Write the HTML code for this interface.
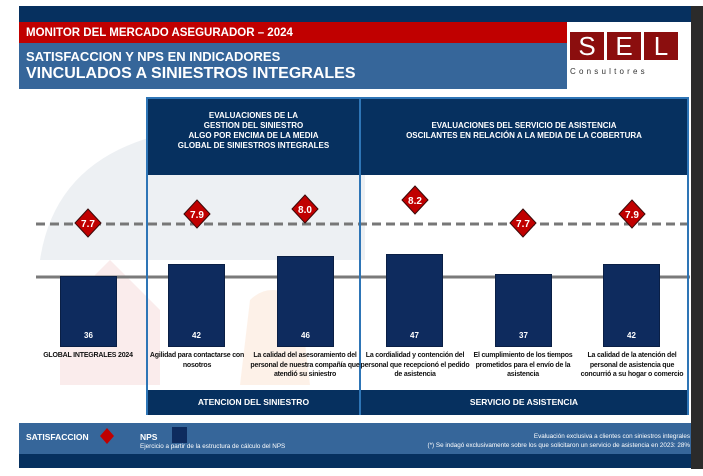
<!DOCTYPE html>
<html><head><meta charset="utf-8"><style>
*{margin:0;padding:0;box-sizing:border-box}
body{width:703px;height:476px;background:#fff;position:relative;overflow:hidden;font-family:"Liberation Sans Narrow","Liberation Sans",sans-serif;font-weight:bold}
.a{position:absolute}
.bar{position:absolute;width:57px;background:#0E2B5E;border:1px solid #0a1f45;color:#fff;font-size:8px;text-align:center}
.lab{position:absolute;width:112px;font-size:7px;line-height:9.5px;text-align:center;color:#111;letter-spacing:-0.2px}
</style></head><body>
<div class="a" style="left:691px;top:6px;width:12px;height:463px;background:#2b2b2b"></div>
<div class="a" style="left:19px;top:6px;width:672px;height:16px;background:#06305F"></div>
<svg class="a" style="left:0;top:0" width="703" height="476">
<path d="M40 260 Q60 125 250 125 Q320 125 365 175 L365 260 Z" fill="#e6e9ee" opacity="0.7"/>
<path d="M60 310 L110 260 L160 310 L160 385 L60 385 Z" fill="#f7e0e0" opacity="0.6"/>
<path d="M250 300 Q270 280 300 300 L310 385 L240 385 Z" fill="#fbe8d8" opacity="0.6"/>
<line x1="36" y1="224" x2="690" y2="224" stroke="#777" stroke-width="3" stroke-dasharray="9,5"/>
<line x1="36" y1="277" x2="690" y2="277" stroke="#7a7a7a" stroke-width="3"/>
</svg>
<div class="a" style="left:19px;top:22px;width:548px;height:21px;background:#C00000;color:#fff;font-size:11.5px;padding:5px 0 0 7px">MONITOR DEL MERCADO ASEGURADOR – 2024</div>
<div class="a" style="left:19px;top:43px;width:548px;height:46px;background:#36669A;color:#fff;padding:6px 0 0 7px"><div style="font-size:13px">SATISFACCION Y NPS EN INDICADORES</div><div style="font-size:16px;margin-top:1px">VINCULADOS A SINIESTROS INTEGRALES</div></div>
<div class="a" style="left:570px;top:32px;width:34px;height:28px;background:#8B0E0E;color:#fff;font-size:26px;font-weight:normal;text-align:center;line-height:28px">S</div>
<div class="a" style="left:607px;top:32px;width:34px;height:28px;background:#8B0E0E;color:#fff;font-size:26px;font-weight:normal;text-align:center;line-height:28px">E</div>
<div class="a" style="left:644px;top:32px;width:34px;height:28px;background:#8B0E0E;color:#fff;font-size:26px;font-weight:normal;text-align:center;line-height:28px">L</div>
<div class="a" style="left:570px;top:67px;width:108px;font-size:8px;font-weight:normal;letter-spacing:3.2px;color:#333;font-family:'Liberation Sans',sans-serif">Consultores</div>
<div class="a" style="left:146px;top:97px;width:543px;height:318px;border:2px solid #2E75B6"></div>
<div class="a" style="left:359px;top:97px;width:2px;height:318px;background:#2E75B6"></div>
<div class="a" style="left:148px;top:99px;width:211px;height:76px;background:#06305F;color:#fff;font-size:8px;line-height:10px;text-align:center;padding-top:12px">EVALUACIONES DE LA<br>GESTION DEL SINIESTRO<br>ALGO POR ENCIMA DE LA MEDIA<br>GLOBAL DE SINIESTROS INTEGRALES</div>
<div class="a" style="left:361px;top:99px;width:326px;height:76px;background:#06305F;color:#fff;font-size:8px;line-height:10px;text-align:center;padding-top:22px">EVALUACIONES DEL SERVICIO DE ASISTENCIA<br>OSCILANTES EN RELACIÓN A LA MEDIA DE LA COBERTURA</div>
<div class="a" style="left:148px;top:390px;width:211px;height:25px;background:#06305F;color:#fff;font-size:8.5px;text-align:center;line-height:25px">ATENCION DEL SINIESTRO</div>
<div class="a" style="left:361px;top:390px;width:326px;height:25px;background:#06305F;color:#fff;font-size:8.5px;text-align:center;line-height:25px">SERVICIO DE ASISTENCIA</div>

<div class="bar" style="left:60px;top:276px;height:71px;padding-top:54px">36</div>
<div class="bar" style="left:168px;top:264px;height:83px;padding-top:66px">42</div>
<div class="bar" style="left:277px;top:256px;height:91px;padding-top:74px">46</div>
<div class="bar" style="left:386px;top:254px;height:93px;padding-top:76px">47</div>
<div class="bar" style="left:495px;top:274px;height:73px;padding-top:56px">37</div>
<div class="bar" style="left:603px;top:264px;height:83px;padding-top:66px">42</div>

<div class="lab" style="left:32px;top:351px">GLOBAL INTEGRALES 2024</div>
<div class="lab" style="left:141px;top:351px">Agilidad para contactarse con nosotros</div>
<div class="lab" style="left:249px;top:351px">La calidad del asesoramiento del personal de nuestra compañía que atendió su siniestro</div>
<div class="lab" style="left:359px;top:351px">La cordialidad y contención del personal que recepcionó el pedido de asistencia</div>
<div class="lab" style="left:467px;top:351px">El cumplimiento de los tiempos prometidos para el envío de la asistencia</div>
<div class="lab" style="left:576px;top:351px">La calidad de la atención del personal de asistencia que concurrió a su hogar o comercio</div>

<svg class="a" style="left:0;top:0" width="703" height="476" font-family="Liberation Sans" font-weight="bold" font-size="10" fill="#fff" text-anchor="middle">
<g stroke="#3a0a0a" stroke-width="1" fill="#C00000">
<polygon points="88,209 101,223 88,237 75,223"/>
<polygon points="197,200 210,214 197,228 184,214"/>
<polygon points="305,195 318,209 305,223 292,209"/>
<polygon points="415,186 428,200 415,214 402,200"/>
<polygon points="523,209 536,223 523,237 510,223"/>
<polygon points="632,200 645,214 632,228 619,214"/>
</g>
<text x="88" y="227">7.7</text><text x="197" y="218">7.9</text><text x="305" y="213">8.0</text>
<text x="415" y="204">8.2</text><text x="523" y="227">7.7</text><text x="632" y="218">7.9</text>
</svg>

<div class="a" style="left:19px;top:423px;width:672px;height:31px;background:#36669A"></div>
<div class="a" style="left:19px;top:454px;width:672px;height:14px;background:#06305F"></div>
<div class="a" style="left:26px;top:432px;color:#fff;font-size:8.5px">SATISFACCION</div>
<svg class="a" style="left:100px;top:428px" width="14" height="16"><polygon points="7,0 14,8 7,16 0,8" fill="#C00000"/></svg>
<div class="a" style="left:140px;top:432px;color:#fff;font-size:8.5px">NPS</div>
<div class="a" style="left:172px;top:427px;width:15px;height:16px;background:#0E2B5E"></div>
<div class="a" style="left:140px;top:443px;color:#fff;font-size:6.3px;font-weight:normal">Ejercicio a partir de la estructura de cálculo del NPS</div>
<div class="a" style="left:300px;top:432px;width:390px;text-align:right;color:#fff;font-size:6.3px;font-weight:normal;line-height:9px">Evaluación exclusiva a clientes con siniestros integrales<br>(*) Se indagó exclusivamente sobre los que solicitaron un servicio de asistencia en 2023: 28%</div>
</body></html>
